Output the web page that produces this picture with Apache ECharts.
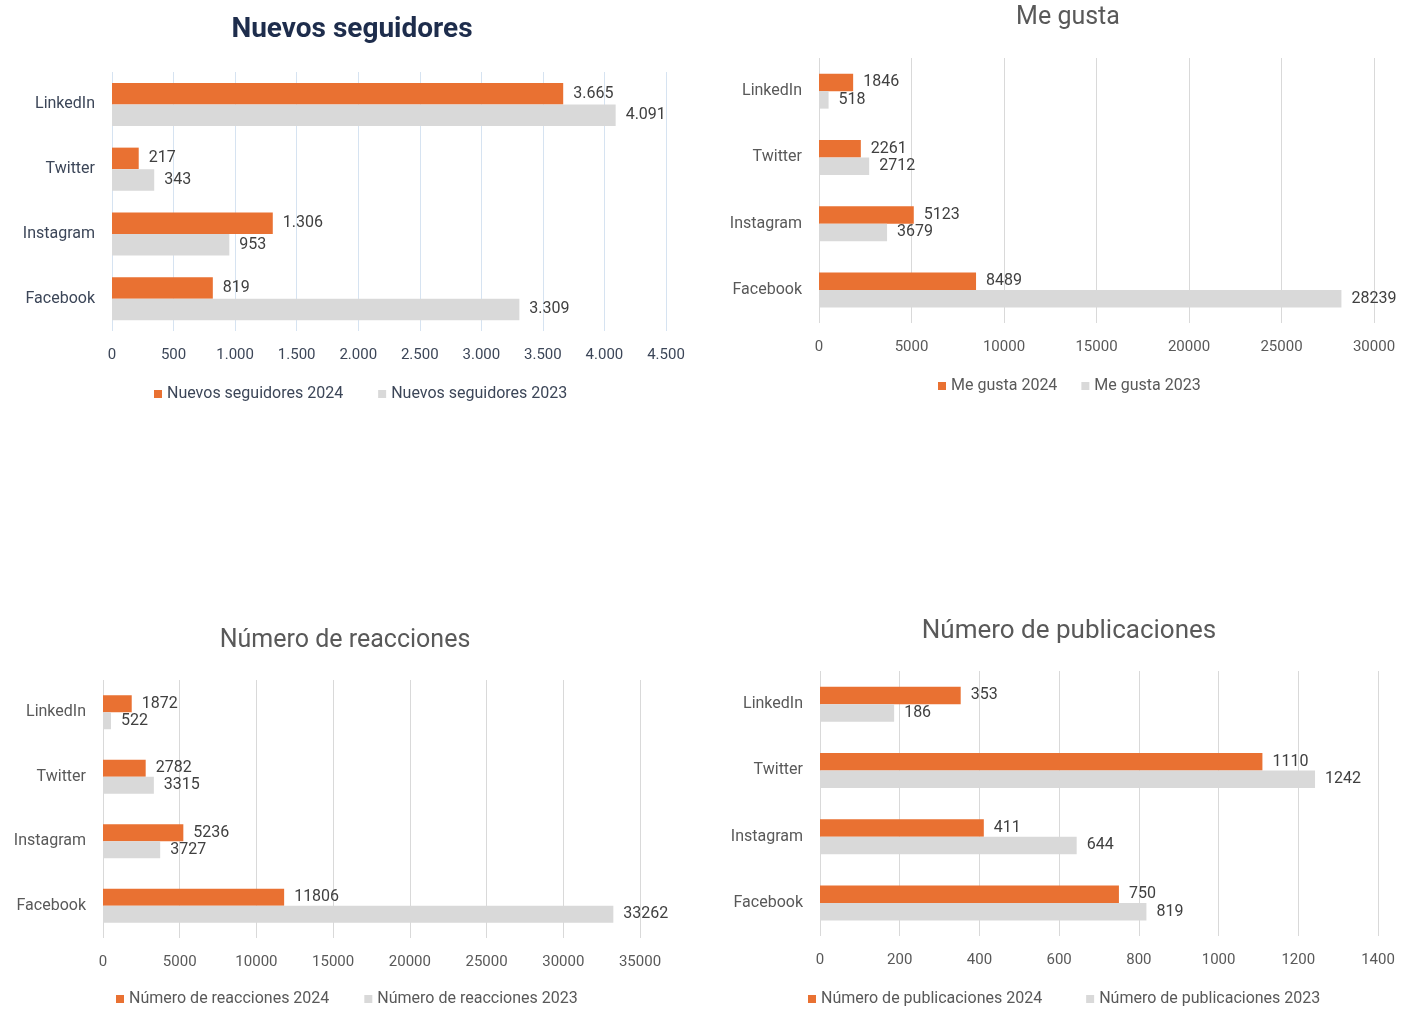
<!DOCTYPE html>
<html>
<head>
<meta charset="utf-8">
<title>Redes sociales 2023 vs 2024</title>
<script src="https://cdn.jsdelivr.net/npm/echarts@6/dist/echarts.min.js"></script>
<style>
  html, body { margin: 0; padding: 0; background: #fff; }
  #main { width: 1410px; height: 1010px; }
</style>
</head>
<body>
<div id="main"></div>
<script>
// categorías (de abajo hacia arriba en el eje)
const platforms = ['Facebook', 'Instagram', 'Twitter', 'LinkedIn']

const seguidores2024 = [819, 1306, 217, 3665]
const seguidores2023 = [3309, 953, 343, 4091]
const meGusta2024 = [8489, 5123, 2261, 1846]
const meGusta2023 = [28239, 3679, 2712, 518]
const reacciones2024 = [11806, 5236, 2782, 1872]
const reacciones2023 = [33262, 3727, 3315, 522]
const publicaciones2024 = [750, 411, 1110, 353]
const publicaciones2023 = [819, 644, 1242, 186]

// ticks de cada eje x: [max, intervalo]
const ticksSeguidores = [4500, 500]
const ticksMeGusta = [30000, 5000]
const ticksReacciones = [35000, 5000]
const ticksPublicaciones = [1400, 200]

const ORANGE = '#E97132'
const GRAY = '#D9D9D9'
const FONT = 'Roboto'

const puntos = v => String(v).replace(/\B(?=(\d{3})+(?!\d))/g, '.')

const panels = [
  { title: 'Nuevos seguidores', tx: 347, ty: 11, tsize: 28, bold: true, tcolor: '#1e2d4c',
    grid: { left: 112, top: 72, width: 554, height: 259 }, ticks: ticksSeguidores,
    s24: seguidores2024, s23: seguidores2023, name: 'Nuevos seguidores', barW: 21.5,
    legendLeft: 149, legendTop: 380, legendGap: 35, fmt: puntos,
    grid_color: '#D6E3F1', axisColor: '#3c4658' },
  { title: 'Me gusta', tx: 1063, ty: 0, tsize: 25, bold: false, tcolor: '#595959',
    grid: { left: 819, top: 58, width: 555, height: 265 }, ticks: ticksMeGusta,
    s24: meGusta2024, s23: meGusta2023, name: 'Me gusta', barW: 17.5,
    legendLeft: 933, legendTop: 372, legendGap: 24, fmt: v => String(v),
    grid_color: '#D9D9D9', axisColor: '#595959' },
  { title: 'Número de reacciones', tx: 340, ty: 623, tsize: 25, bold: false, tcolor: '#595959',
    grid: { left: 103, top: 680, width: 537, height: 258 }, ticks: ticksReacciones,
    s24: reacciones2024, s23: reacciones2023, name: 'Número de reacciones', barW: 17,
    legendLeft: 111, legendTop: 985, legendGap: 35, fmt: v => String(v),
    grid_color: '#D9D9D9', axisColor: '#595959' },
  { title: 'Número de publicaciones', tx: 1064, ty: 613, tsize: 26, bold: false, tcolor: '#595959',
    grid: { left: 820, top: 671, width: 558, height: 265 }, ticks: ticksPublicaciones,
    s24: publicaciones2024, s23: publicaciones2023, name: 'Número de publicaciones', barW: 17.5,
    legendLeft: 803, legendTop: 985, legendGap: 44, fmt: v => String(v),
    grid_color: '#D9D9D9', axisColor: '#595959' }
]

const option = {
  backgroundColor: '#fff',
  animation: false,
  textStyle: { fontFamily: FONT },
  title: [],
  legend: [],
  grid: [],
  xAxis: [],
  yAxis: [],
  series: []
}

panels.forEach((p, i) => {
  option.title.push({
    text: p.title,
    left: p.tx,
    top: p.ty,
    textAlign: 'center',
    textStyle: {
      fontFamily: FONT,
      fontSize: p.tsize,
      fontWeight: p.bold ? 'bold' : 'normal',
      color: p.tcolor
    }
  })
  option.legend.push({
    left: p.legendLeft,
    top: p.legendTop,
    itemWidth: 8,
    itemHeight: 8,
    itemGap: p.legendGap,
    icon: 'rect',
    data: [p.name + ' 2024', p.name + ' 2023'],
    textStyle: { fontFamily: FONT, fontSize: 16, color: p.axisColor, lineHeight: 18 }
  })
  option.grid.push(Object.assign({ containLabel: false }, p.grid))
  option.xAxis.push({
    type: 'value',
    gridIndex: i,
    min: 0,
    max: p.ticks[0],
    interval: p.ticks[1],
    axisLine: { show: false },
    axisTick: { show: false },
    splitLine: { lineStyle: { color: p.grid_color, width: 1 } },
    axisLabel: {
      margin: 17,
      fontFamily: FONT,
      fontSize: 15,
      color: p.axisColor,
      formatter: p.fmt
    }
  })
  option.yAxis.push({
    type: 'category',
    gridIndex: i,
    data: platforms,
    axisLine: { show: false },
    axisTick: { show: false },
    axisLabel: { margin: 17, fontFamily: FONT, fontSize: 16, color: p.axisColor }
  })
  const lbl = {
    show: true,
    position: 'right',
    distance: 10,
    fontFamily: FONT,
    fontSize: 16,
    color: '#404040',
    formatter: d => p.fmt(d.value)
  }
  option.series.push({
    name: p.name + ' 2024',
    type: 'bar',
    xAxisIndex: i,
    yAxisIndex: i,
    data: p.s24,
    barWidth: p.barW,
    barGap: '0%',
    itemStyle: { color: ORANGE },
    label: lbl
  })
  option.series.push({
    name: p.name + ' 2023',
    type: 'bar',
    xAxisIndex: i,
    yAxisIndex: i,
    data: p.s23,
    barWidth: p.barW,
    barGap: '0%',
    itemStyle: { color: GRAY },
    label: lbl
  })
})

const chart = echarts.init(document.getElementById('main'))
chart.setOption(option)
</script>
</body>
</html>
